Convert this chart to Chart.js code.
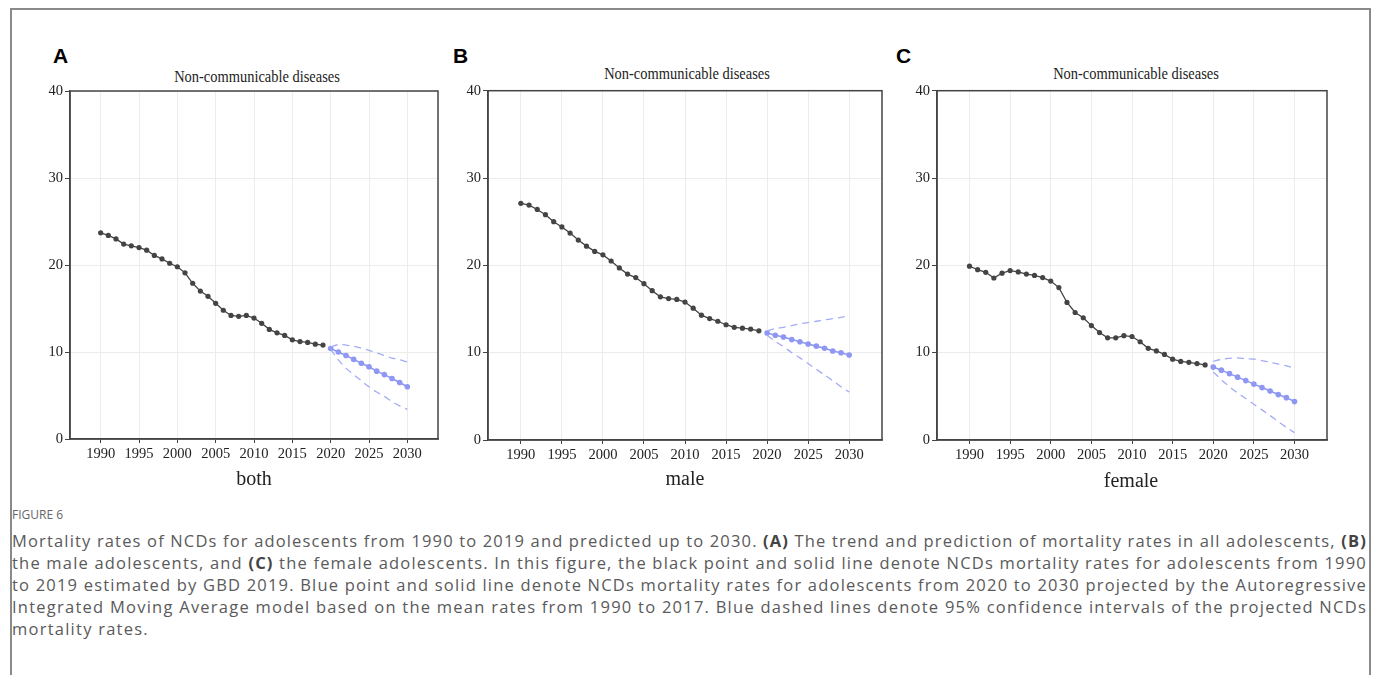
<!DOCTYPE html>
<html>
<head>
<meta charset="utf-8">
<script src="https://cdn.jsdelivr.net/npm/chart.js@4.4.0/dist/chart.umd.min.js"></script>
<style>
  body { margin: 0; width: 1378px; height: 675px; background: #fff; overflow: hidden; position: relative; }
  .frame { position: absolute; left: 10px; top: 8px; width: 1357px; height: 720px; border: 2px solid #8a8a8a; }
  .panel { position: absolute; top: 80px; height: 400px; }
  .letter { position: absolute; font-family: "Liberation Sans", Arial, sans-serif; font-weight: bold; font-size: 21px; color: #000; }
  .ptitle { position: absolute; transform: translate(-50%, -50%) scaleX(0.85); font-family: "Liberation Serif", serif; font-size: 17px; color: #222; white-space: nowrap; }
  .xtitle { position: absolute; transform: translate(-50%, -50%); font-family: "Liberation Serif", serif; font-size: 20px; color: #222; }
  .figlabel { position: absolute; left: 12px; top: 506px; font-family: "Open Sans", sans-serif; font-size: 12px; color: #666; }
  .caption { position: absolute; left: 12px; width: 1355px; font-family: "Open Sans", sans-serif; font-size: 16.5px; color: #5a5a5a; }
  .caption div { height: 22px; line-height: 22px; white-space: nowrap; }
  .caption span { display: inline-block; }
  .caption b { color: #444; }
</style>
</head>
<body>
<div class="frame"></div>

<div class="letter" style="left:53px;top:44px">A</div>
<div class="letter" style="left:453px;top:44px">B</div>
<div class="letter" style="left:896px;top:44px">C</div>

<div class="ptitle" style="left:257px;top:77px">Non-communicable diseases</div>
<div class="ptitle" style="left:687px;top:74px">Non-communicable diseases</div>
<div class="ptitle" style="left:1136px;top:74px">Non-communicable diseases</div>

<div class="panel" style="left:0px;width:450px"><canvas id="chartA"></canvas></div>
<div class="panel" style="left:450px;width:445px"><canvas id="chartB"></canvas></div>
<div class="panel" style="left:895px;width:450px"><canvas id="chartC"></canvas></div>

<div class="xtitle" style="left:254px;top:478px">both</div>
<div class="xtitle" style="left:685px;top:478px">male</div>
<div class="xtitle" style="left:1131px;top:480px">female</div>

<div class="figlabel">FIGURE 6</div>
<div class="caption" id="caption" style="top:530px">
  <div><span>Mortality rates of NCDs for adolescents from 1990 to 2019 and predicted up to 2030. <b>(A)</b> The trend and prediction of mortality rates in all adolescents, <b>(B)</b></span></div>
  <div><span>the male adolescents, and <b>(C)</b> the female adolescents. In this figure, the black point and solid line denote NCDs mortality rates for adolescents from 1990</span></div>
  <div><span>to 2019 estimated by GBD 2019. Blue point and solid line denote NCDs mortality rates for adolescents from 2020 to 2030 projected by the Autoregressive</span></div>
  <div><span>Integrated Moving Average model based on the mean rates from 1990 to 2017. Blue dashed lines denote 95% confidence intervals of the projected NCDs</span></div>
  <div><span>mortality rates.</span></div>
</div>

<script>
const obsYears = [1990, 1991, 1992, 1993, 1994, 1995, 1996, 1997, 1998, 1999,
  2000, 2001, 2002, 2003, 2004, 2005, 2006, 2007, 2008, 2009,
  2010, 2011, 2012, 2013, 2014, 2015, 2016, 2017, 2018, 2019];
const predYears = [2020, 2021, 2022, 2023, 2024, 2025, 2026, 2027, 2028, 2029, 2030];
const xTicks = [1990, 1995, 2000, 2005, 2010, 2015, 2020, 2025, 2030];
const yTicks = [0, 10, 20, 30, 40];

// both
const bothObs = [23.7, 23.4, 23.0, 22.4, 22.2, 22.0, 21.7, 21.1, 20.7, 20.2,
  19.8, 19.1, 17.9, 17.0, 16.4, 15.6, 14.8, 14.2, 14.1, 14.2,
  13.9, 13.3, 12.6, 12.2, 11.9, 11.4, 11.2, 11.1, 10.9, 10.8];
const bothPred = [10.4, 10.0, 9.6, 9.15, 8.7, 8.3, 7.8, 7.4, 6.95, 6.5, 6.0];
const bothUpper = [10.6, 10.85, 10.8, 10.65, 10.45, 10.2, 9.9, 9.6, 9.3, 9.1, 8.85];
const bothLower = [10.3, 9.1, 8.15, 7.4, 6.7, 6.0, 5.4, 4.9, 4.3, 3.8, 3.4];

// male
const maleObs = [27.1, 26.9, 26.4, 25.8, 25.0, 24.4, 23.7, 22.9, 22.2, 21.6,
  21.2, 20.5, 19.7, 19.0, 18.6, 17.9, 17.1, 16.4, 16.2, 16.1,
  15.8, 15.1, 14.3, 13.9, 13.6, 13.2, 12.9, 12.8, 12.7, 12.5];
const malePred = [12.25, 12.0, 11.8, 11.5, 11.25, 11.0, 10.75, 10.5, 10.2, 10.0, 9.73];
const maleUpper = [12.5, 12.75, 12.9, 13.1, 13.3, 13.45, 13.6, 13.75, 13.9, 14.05, 14.2];
const maleLower = [12.0, 11.3, 10.7, 10.0, 9.4, 8.75, 8.1, 7.45, 6.8, 6.1, 5.5];

// female
const femaleObs = [19.9, 19.5, 19.2, 18.55, 19.1, 19.4, 19.25, 19.0, 18.85, 18.6,
  18.2, 17.45, 15.75, 14.6, 14.0, 13.1, 12.3, 11.7, 11.7, 11.95,
  11.85, 11.25, 10.5, 10.2, 9.8, 9.25, 9.0, 8.9, 8.75, 8.6];
const femalePred = [8.35, 8.0, 7.6, 7.2, 6.8, 6.4, 6.0, 5.6, 5.2, 4.85, 4.4];
const femaleUpper = [9.0, 9.25, 9.35, 9.4, 9.3, 9.25, 9.1, 8.9, 8.7, 8.5, 8.2];
const femaleLower = [7.8, 6.9, 6.1, 5.4, 4.75, 4.1, 3.45, 2.8, 2.1, 1.45, 0.85];

const BLACK = "#444444";
const BLUE = "#8e98f2";
const BLUE_DASH = "#a3abf6";

// caption lines: stretch letters a bit so each full line spans the box
const capLines = document.querySelectorAll("#caption span");
let spacing = 0;
capLines.forEach((el, i) => {
  if (i === capLines.length - 1) return;
  const n = el.textContent.length;
  spacing = (1355 - el.getBoundingClientRect().width) / n;
  el.style.letterSpacing = spacing + "px";
});
capLines[capLines.length - 1].style.letterSpacing = spacing + "px";

// stroke the whole plot area box, like the original
const framePlugin = {
  id: "frame",
  afterDraw(chart) {
    const a = chart.chartArea;
    const ctx = chart.ctx;
    ctx.save();
    ctx.strokeStyle = "#444";
    ctx.lineWidth = 1.5;
    ctx.strokeRect(a.left, a.top, a.right - a.left, a.bottom - a.top);
    ctx.restore();
  },
};

function pts(xs, ys) {
  return xs.map((x, i) => ({ x: x, y: ys[i] }));
}

function makePanel(id, obs, pred, upper, lower, geom) {
  const tickFont = { family: "Liberation Serif", size: 14.5 };
  return new Chart(document.getElementById(id), {
    type: "line",
    data: {
      datasets: [
        {
          data: pts(predYears, upper),
          borderColor: BLUE_DASH,
          borderWidth: 1.3,
          borderDash: [7, 5],
          pointRadius: 0,
          tension: 0.3,
        },
        {
          data: pts(predYears, lower),
          borderColor: BLUE_DASH,
          borderWidth: 1.3,
          borderDash: [7, 5],
          pointRadius: 0,
          tension: 0.3,
        },
        {
          data: pts(predYears, pred),
          borderColor: BLUE,
          backgroundColor: BLUE,
          borderWidth: 1.6,
          pointRadius: 2.8,
          pointBorderWidth: 0,
        },
        {
          data: pts(obsYears, obs),
          borderColor: BLACK,
          backgroundColor: BLACK,
          borderWidth: 1.3,
          pointRadius: 2.6,
          pointBorderWidth: 0,
        },
      ],
    },
    options: {
      responsive: true,
      maintainAspectRatio: false,
      animation: false,
      layout: { padding: { top: geom.top, right: geom.right, left: 0, bottom: 0 } },
      plugins: { legend: { display: false }, tooltip: { enabled: false } },
      scales: {
        x: {
          type: "linear",
          min: 1986,
          max: 2034,
          afterBuildTicks: (s) => { s.ticks = xTicks.map((v) => ({ value: v })); },
          afterFit: (s) => { s.height = geom.xh; },
          ticks: { font: tickFont, color: "#222", padding: 2, maxRotation: 0, autoSkip: false,
            callback: (v) => String(v) },
          grid: { color: "#ececec", tickColor: "#444", tickLength: 4 },
          border: { color: "#444", width: 1.5 },
        },
        y: {
          min: 0,
          max: 40,
          afterBuildTicks: (s) => { s.ticks = yTicks.map((v) => ({ value: v })); },
          afterFit: (s) => { s.width = geom.yw; },
          ticks: { font: tickFont, color: "#222", padding: 2, callback: (v) => String(v) },
          grid: { color: "#ececec", tickColor: "#444", tickLength: 5 },
          border: { color: "#444", width: 1.5 },
        },
      },
    },
    plugins: [framePlugin],
  });
}

makePanel("chartA", bothObs, bothPred, bothUpper, bothLower, { top: 11, right: 12, yw: 70, xh: 41 });
makePanel("chartB", maleObs, malePred, maleUpper, maleLower, { top: 8, right: 13, yw: 38, xh: 40 });
makePanel("chartC", femaleObs, femalePred, femaleUpper, femaleLower, { top: 8, right: 18, yw: 42, xh: 40 });
</script>
</body>
</html>
